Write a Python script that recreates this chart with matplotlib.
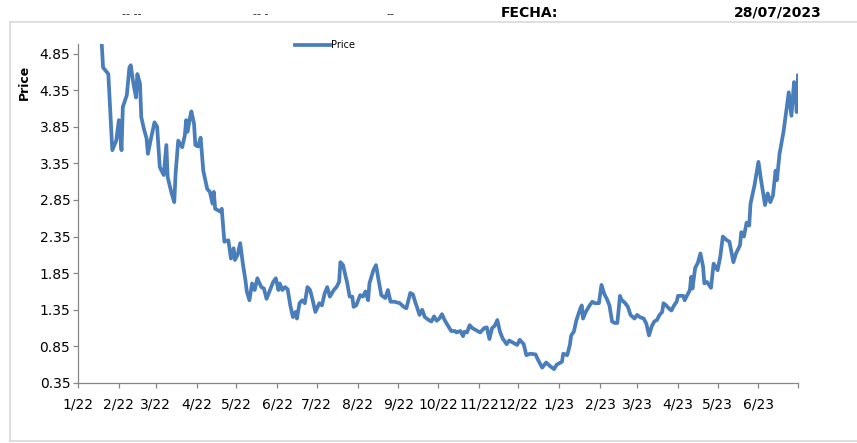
import numpy as np
import pandas as pd
import matplotlib
matplotlib.use('Agg')
import matplotlib.pyplot as plt

# price series, x as days after 1 Jan 2022
start_date = pd.Timestamp('2022-01-01')
day_offset = [17, 19, 23, 26, 29, 31, 33, 34, 37, 39, 40, 42, 44, 45, 47, 48, 50, 52, 53, 55,
              58, 60, 62, 65, 67, 68, 71, 73, 74, 76, 79, 81, 82, 83, 85, 86, 88, 89, 91, 93,
              95, 98, 100, 102, 103, 104, 108, 109, 111, 114, 116, 118, 119, 121, 123, 125, 127, 128, 130, 132,
              134, 136, 139, 141, 143, 146, 148, 150, 152, 153, 155, 157, 159, 161, 163, 165, 166, 168, 170, 172,
              174, 176, 178, 180, 183, 185, 187, 189, 191, 194, 196, 198, 199, 201, 203, 204, 206, 208, 209, 211,
              214, 216, 218, 220, 221, 224, 226, 228, 230, 233, 235, 237, 240, 244, 247, 249, 252, 254, 256, 257,
              259, 261, 263, 266, 268, 270, 272, 274, 276, 278, 281, 283, 286, 287, 290, 292, 293, 295, 297, 299,
              302, 305, 308, 310, 312, 314, 316, 318, 320, 322, 325, 327, 330, 333, 335, 338, 340, 343, 347, 349,
              352, 355, 358, 361, 363, 367, 368, 371, 373, 374, 376, 378, 381, 382, 383, 385, 388, 390, 392, 395,
              397, 399, 401, 403, 405, 407, 409, 411, 412, 415, 417, 419, 422, 424, 426, 429, 431, 433, 435, 437,
              439, 441, 443, 444, 446, 448, 450, 452, 454, 455, 457, 459, 460, 462, 464, 465, 466, 468, 470, 472,
              474, 475, 477, 480, 482, 485, 487, 489, 492, 494, 497, 499, 502, 503, 505, 507, 509, 510, 513, 516,
              518, 521, 523, 525, 527, 529, 530, 532, 535, 537, 539, 541, 543, 544, 545, 546]
price = [5.30, 4.66, 4.57, 3.53, 3.66, 3.94, 3.53, 4.12, 4.28, 4.66, 4.69, 4.44, 4.25, 4.57, 4.44, 3.98, 3.82, 3.69, 3.48, 3.66,
         3.91, 3.85, 3.30, 3.19, 3.60, 3.16, 2.94, 2.82, 3.21, 3.66, 3.57, 3.73, 3.94, 3.78, 3.98, 4.06, 3.89, 3.60, 3.58, 3.70,
         3.25, 3.00, 2.96, 2.80, 2.96, 2.73, 2.69, 2.73, 2.28, 2.30, 2.05, 2.19, 2.03, 2.10, 2.26, 1.98, 1.75, 1.60, 1.48, 1.71,
         1.62, 1.78, 1.66, 1.64, 1.50, 1.64, 1.73, 1.78, 1.62, 1.71, 1.62, 1.66, 1.63, 1.41, 1.25, 1.32, 1.23, 1.44, 1.48, 1.44,
         1.66, 1.62, 1.48, 1.32, 1.44, 1.41, 1.57, 1.66, 1.53, 1.62, 1.66, 1.73, 2.00, 1.96, 1.80, 1.73, 1.53, 1.53, 1.39, 1.41,
         1.55, 1.53, 1.60, 1.48, 1.71, 1.89, 1.96, 1.75, 1.55, 1.51, 1.62, 1.46, 1.46, 1.44, 1.39, 1.37, 1.58, 1.56, 1.44, 1.39,
         1.28, 1.35, 1.25, 1.21, 1.19, 1.26, 1.20, 1.23, 1.29, 1.21, 1.12, 1.06, 1.06, 1.04, 1.06, 0.99, 1.05, 1.04, 1.14, 1.10,
         1.07, 1.04, 1.10, 1.11, 0.95, 1.10, 1.13, 1.21, 1.05, 0.96, 0.88, 0.93, 0.90, 0.87, 0.94, 0.88, 0.73, 0.75, 0.74, 0.66,
         0.56, 0.63, 0.58, 0.54, 0.60, 0.64, 0.75, 0.73, 0.87, 1.00, 1.05, 1.21, 1.37, 1.41, 1.23, 1.32, 1.41, 1.46, 1.44, 1.44,
         1.69, 1.57, 1.50, 1.41, 1.19, 1.17, 1.17, 1.54, 1.49, 1.44, 1.39, 1.28, 1.23, 1.28, 1.25, 1.23, 1.16, 1.00, 1.12, 1.19,
         1.21, 1.28, 1.32, 1.44, 1.41, 1.37, 1.34, 1.41, 1.46, 1.54, 1.54, 1.54, 1.48, 1.55, 1.62, 1.80, 1.64, 1.92, 1.99, 2.12,
         1.94, 1.71, 1.73, 1.65, 1.98, 1.89, 2.07, 2.35, 2.30, 2.28, 2.00, 2.12, 2.23, 2.41, 2.35, 2.54, 2.50, 2.80, 3.05, 3.37,
         3.12, 2.78, 2.94, 2.82, 2.91, 3.25, 3.12, 3.48, 3.78, 4.05, 4.32, 4.00, 4.46, 4.37, 4.05, 4.55]

tick_dates = pd.date_range('2022-01-01', '2023-07-01', freq='MS')
tick_labels = ['1/22', '2/22', '3/22', '4/22', '5/22', '6/22', '7/22', '8/22', '9/22', '10/22',
               '11/22', '12/22', '1/23', '2/23', '3/23', '4/23', '5/23', '6/23', '']
y_ticks = [0.35, 0.85, 1.35, 1.85, 2.35, 2.85, 3.35, 3.85, 4.35, 4.85]
y_tick_labels = ['0.35', '0.85', '1.35', '1.85', '2.35', '2.85', '3.35', '3.85', '4.35', '4.85']

header_items = ['-- --', '-- -', '--']
header_x = [132, 261, 390]

dates = start_date + pd.to_timedelta(day_offset, unit='D')

W, H = 857, 443
fig = plt.figure(figsize=(W / 100, H / 100), dpi=100)
fig.patch.set_facecolor('white')

# outer frame of the sheet area
frame_col = '#d9d9d9'
fig.add_artist(plt.Line2D([10 / W, 1.0], [1 - 22 / H, 1 - 22 / H], color=frame_col, lw=1.2, transform=fig.transFigure))
fig.add_artist(plt.Line2D([10 / W, 10 / W], [1 - 22 / H, 1 - 441 / H], color=frame_col, lw=1.2, transform=fig.transFigure))
fig.add_artist(plt.Line2D([10 / W, 1.0], [1 - 441 / H, 1 - 441 / H], color=frame_col, lw=1.2, transform=fig.transFigure))

ax = fig.add_axes([78 / W, 1 - 383 / H, 720 / W, 339 / H])
ax.plot(dates, price, color='#4a7ebb', lw=2.7, solid_joinstyle='round', label='Price')

ax.set_xlim(tick_dates[0], tick_dates[-1])
ax.set_ylim(0.35, 4.98)
ax.set_xticks(tick_dates)
ax.set_xticklabels(tick_labels)
ax.set_yticks(y_ticks)
ax.set_yticklabels(y_tick_labels)

axis_col = '#868686'
for s in ['top', 'right']:
    ax.spines[s].set_visible(False)
for s in ['left', 'bottom']:
    ax.spines[s].set_color(axis_col)
    ax.spines[s].set_linewidth(0.9)
ax.tick_params(axis='both', direction='out', length=3.5, width=0.9, color=axis_col,
               labelsize=10, labelcolor='black')
ax.tick_params(axis='x', pad=7)
ax.tick_params(axis='y', pad=2)

fig.text(24 / W, 1 - 82 / H, 'Price', rotation=90, fontsize=9, fontweight='bold',
         ha='center', va='center')

fig.legend(loc='center left', bbox_to_anchor=(295 / W, 1 - 45 / H), frameon=False,
           fontsize=7, handlelength=3.6, handletextpad=0.15, borderaxespad=0, borderpad=0)

for txt, xp in zip(header_items, header_x):
    fig.text(xp / W, 1 - 14 / H, txt, fontsize=8, color='#222222', ha='center', va='center')
fig.text(529 / W, 1 - 13 / H, 'FECHA:', fontsize=10, fontweight='bold', ha='center', va='center')
fig.text(778 / W, 1 - 13 / H, '28/07/2023', fontsize=10, fontweight='bold', ha='center', va='center')

fig.savefig('out.png', dpi=100, facecolor='white')
